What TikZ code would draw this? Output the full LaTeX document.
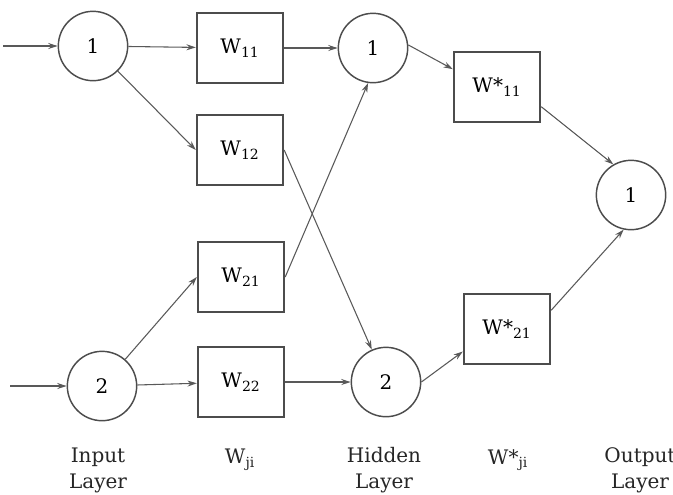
\documentclass[tikz,border=0pt]{standalone}
\usepackage{fontspec}
\setmainfont{DejaVu Serif}
\usetikzlibrary{arrows.meta}
\tikzset{
neuron/.style={
	  draw=black!70, line width=1.1pt, circle,
	    minimum size=52pt, inner sep=0pt, font=\fontsize{15}{18}\selectfont},
weight/.style={
	  draw=black!70, line width=1.3pt, rectangle,
	    minimum width=65pt, minimum height=52.5pt, inner sep=0pt,
    font=\fontsize{15}{18}\selectfont},
layer/.style={align=center, text=black!85, font=\fontsize{15}{19.5}\selectfont},
link/.style={draw=black!65, line width=0.8pt, -{Stealth[length=7pt,width=4.5pt]}}
}
\newcommand{\wsub}[1]{W\textsubscript{#1}}

\begin{document}
\begin{tikzpicture}[x=0.75pt, y=-0.75pt]
	\useasboundingbox (0,0) rectangle (673,494);
	% neurons
	\node[neuron] (inp1) at (93,46) {1};
	\node[neuron] (inp2) at (102,386) {2};
	\node[neuron] (hid1) at (373,48) {1};
	\node[neuron] (hid2) at (386,382) {2};
	\node[neuron] (out) at (631,195) {1};
	% weights
	\node[weight] (w11) at (240,48) {\wsub{11}};
	\node[weight] (w12) at (240,150) {\wsub{12}};
	\node[weight] (w21) at (241,277) {\wsub{21}};
	\node[weight] (w22) at (241,382) {\wsub{22}};
	\node[weight] (ws11) at (497,87) {W*\textsubscript{11}};
	\node[weight] (ws21) at (507,329) {W*\textsubscript{21}};
	% inputs
	\coordinate (in1) at (3,46);
	\coordinate (in2) at (10,386);
	\draw[link] (in1) -- (inp1);
	\draw[link] (in2) -- (inp2);
	% input to hidden
	\draw[link] (inp1) -- (w11);
	\draw[link] (inp1) -- (w12.west);
	\draw[link] (inp2) -- (w21.west);
	\draw[link] (inp2) -- (w22);
	\draw[link] (w11) -- (hid1);
	\draw[link] (w12.east) -- (hid2);
	\draw[link] (w21.east) -- (hid1.262);
	\draw[link] (w22) -- (hid2);
	% hidden to output
	\draw[link] (hid1.5) -- (ws11.158);
	\draw[link] (hid2.east) -- (ws21.207);
	\draw[link] (ws11.-24) -- (out.120);
	\draw[link] (ws21.23) -- (out.258);
	% layer names
	\node[layer] (linp) at (98,470) {Input\\Layer};
	\node[layer] (lw) at (240,460) {\wsub{ji}};
	\node[layer] (lhid) at (384,470) {Hidden\\Layer};
	\node[layer] (lws) at (508,460) {W*\textsubscript{ji}};
	\node[layer] (lout) at (640,470) {Output\\Layer};
\end{tikzpicture}
\end{document}
